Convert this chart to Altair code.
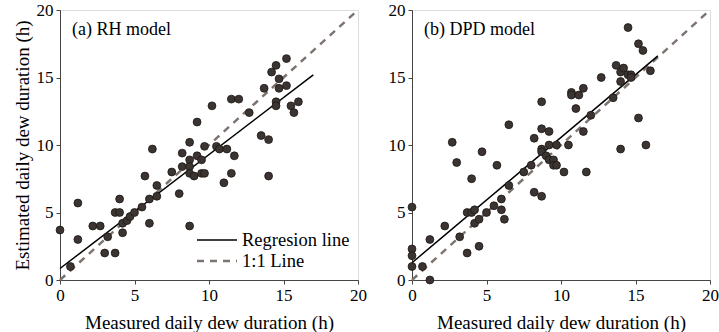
import altair as alt
import pandas as pd

# ---- data ----
rh_measured = [0, 0.7, 1.2, 1.2, 2.2, 2.7, 3.0, 3.2, 3.7, 3.7, 4.0, 4.0, 4.2, 4.2, 4.5, 4.7, 5.0,
               5.5, 5.7, 6.0, 6.0, 6.2, 6.5, 6.5, 7.5, 8.0, 8.2, 8.2, 8.7, 8.7, 8.7, 8.7, 8.7,
               9.0, 9.2, 9.2, 9.5, 9.5, 9.7, 9.7, 10.2, 10.5, 10.7, 11.0, 11.2, 11.5, 11.5,
               11.7, 12.0, 12.7, 13.5, 13.7, 14.0, 14.0, 14.2, 14.5, 14.5, 14.5, 14.7, 14.7,
               15.2, 15.2, 15.5, 15.7, 16.0]
rh_estimated = [3.7, 1.0, 5.7, 3.0, 4.0, 4.0, 2.0, 3.2, 5.0, 2.0, 6.0, 5.0, 4.2, 3.5, 4.4, 4.7, 5.0,
                5.4, 7.7, 6.0, 4.2, 9.7, 7.0, 6.2, 8.0, 6.4, 9.4, 8.4, 10.2, 8.9, 8.4, 7.9, 4.0,
                7.7, 11.7, 9.2, 8.9, 7.9, 9.9, 7.9, 12.9, 9.9, 9.7, 7.2, 9.7, 13.4, 7.9,
                9.2, 13.4, 12.4, 10.7, 14.2, 10.4, 7.7, 15.4, 15.9, 13.2, 12.9, 14.9, 14.2,
                16.4, 14.4, 12.9, 12.4, 13.2]

dpd_measured = [0, 0, 0, 0, 0.7, 1.2, 1.2, 2.2, 2.7, 3.0, 3.2, 3.7, 3.7, 4.0, 4.0, 4.2, 4.2, 4.5,
                4.5, 4.7, 5.0, 5.5, 5.7, 6.0, 6.0, 6.2, 6.5, 6.5, 7.5, 8.0, 8.2, 8.2, 8.7, 8.7,
                8.7, 8.7, 8.7, 9.0, 9.2, 9.2, 9.2, 9.5, 9.5, 9.7, 9.7, 10.2, 10.5, 10.7, 10.7,
                11.0, 11.2, 11.5, 11.5, 11.7, 12.0, 12.7, 13.5, 13.7, 14.0, 14.0, 14.0, 14.2,
                14.5, 14.5, 14.7, 14.7, 15.2, 15.2, 15.5, 15.7, 16.0]
dpd_estimated = [5.4, 2.3, 1.8, 1.0, 1.0, 3.0, 0.0, 4.0, 10.2, 8.7, 3.2, 5.0, 2.0, 7.5, 5.0, 5.2,
                 4.2, 4.5, 2.5, 9.5, 5.0, 5.5, 8.5, 6.0, 5.2, 4.5, 11.5, 7.0, 8.0, 8.5, 10.5,
                 6.5, 13.2, 11.2, 9.7, 9.5, 6.2, 9.2, 11.0, 10.0, 8.9, 8.9, 8.5, 8.5, 10.0, 8.0,
                 10.0, 13.9, 13.7, 12.7, 13.7, 14.2, 11.0, 8.0, 12.2, 15.0, 13.5, 15.9, 15.4,
                 14.7, 9.7, 15.7, 18.7, 15.2, 15.2, 15.0, 17.5, 12.0, 17.0, 10.0, 15.5]

rh_reg_x = [0, 17.0]
rh_reg_y = [0.85, 15.2]
dpd_reg_x = [0, 16.5]
dpd_reg_y = [1.28, 16.6]
one_to_one = [0, 20]
axis_ticks = [0, 5, 10, 15, 20]
legend_labels = ["Regresion line", "1:1 Line"]
panel_titles = ["(a) RH model", "(b) DPD model"]
x_title = "Measured daily dew duration (h)"
y_title = "Estimated daily dew duration (h)"

FONT = "Liberation Serif"
W, H = 298, 270


def axis(title, show_title=True, label_pad=2, title_pad=4):
    return alt.Axis(values=axis_ticks, grid=False, tickSize=4, tickColor="#444", domainColor="#444",
                    labelPadding=label_pad, labelFont=FONT, labelFontSize=17, labelColor="black",
                    labelFlush=False, titleFont=FONT, titleFontSize=19, titleFontWeight="normal",
                    titleColor="black", titlePadding=title_pad,
                    title=title if show_title else None)


def panel(mx, my, rx, ry, ptitle, show_ytitle, show_legend):
    pts = pd.DataFrame({"m": mx, "e": my})
    reg = pd.DataFrame({"m": rx, "e": ry})
    one = pd.DataFrame({"m": one_to_one, "e": one_to_one})
    xs = alt.Scale(domain=[0, 20], nice=False)
    ys = alt.Scale(domain=[0, 20], nice=False)

    base_x = alt.X("m:Q", scale=xs, axis=axis(x_title, True, 3, 10))
    base_y = alt.Y("e:Q", scale=ys, axis=axis(y_title, show_ytitle, 3, 4))

    l_one = alt.Chart(one).mark_line(color="#7d7470", strokeWidth=2.5, strokeDash=[7, 6]).encode(
        x=base_x, y=base_y)
    l_reg = alt.Chart(reg).mark_line(color="black", strokeWidth=1.5).encode(x=base_x, y=base_y)
    l_pts = alt.Chart(pts).mark_circle(size=62, opacity=1, color="#3b3431", stroke="#1c1818",
                                       strokeWidth=0.8).encode(x=base_x, y=base_y)
    l_title = alt.Chart(pd.DataFrame({"t": [ptitle]})).mark_text(
        align="left", baseline="middle", font=FONT, fontSize=18, color="black").encode(
        x=alt.value(12), y=alt.value(20), text="t:N")
    layers = [l_one, l_reg, l_pts, l_title]
    if show_legend:
        d1 = pd.DataFrame({"t": [legend_labels[0]]})
        d2 = pd.DataFrame({"t": [legend_labels[1]]})
        layers += [
            alt.Chart(d1).mark_rule(color="black", strokeWidth=1.5).encode(
                x=alt.value(137), x2=alt.value(177), y=alt.value(230)),
            alt.Chart(d2).mark_rule(color="#7d7470", strokeWidth=2.5, strokeDash=[7, 6]).encode(
                x=alt.value(137), x2=alt.value(177), y=alt.value(251)),
            alt.Chart(d1).mark_text(align="left", baseline="middle", font=FONT, fontSize=18.5,
                                    color="black").encode(x=alt.value(182), y=alt.value(230), text="t:N"),
            alt.Chart(d2).mark_text(align="left", baseline="middle", font=FONT, fontSize=18.5,
                                    color="black").encode(x=alt.value(182), y=alt.value(251), text="t:N"),
        ]
    return alt.layer(*layers).properties(width=W, height=H)


left = panel(rh_measured, rh_estimated, rh_reg_x, rh_reg_y, panel_titles[0], True, True)
right = panel(dpd_measured, dpd_estimated, dpd_reg_x, dpd_reg_y, panel_titles[1], False, False)

chart = alt.hconcat(left, right, spacing=20).properties(
    padding={"left": 12, "top": 0, "right": 0, "bottom": 0}
).configure_view(stroke="#444", strokeWidth=1.2).configure(background="white")

chart.save("out.html", embed_options={"renderer": "svg", "actions": False})
